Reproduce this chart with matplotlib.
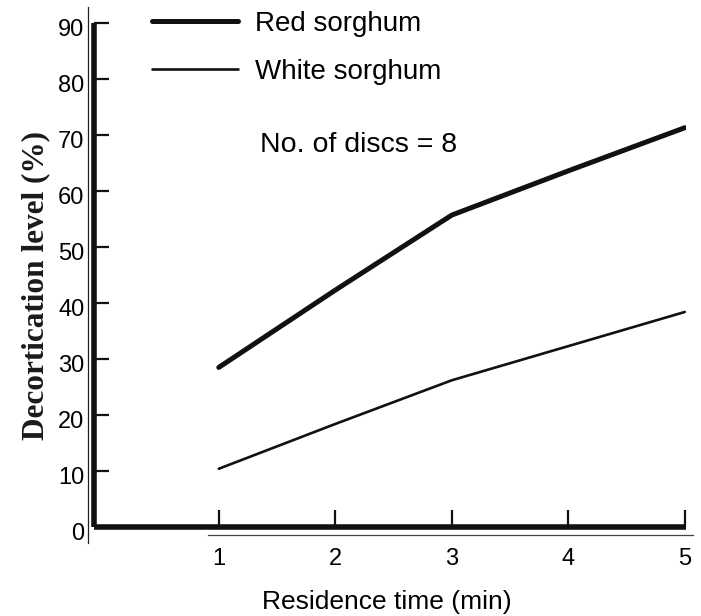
import matplotlib
matplotlib.use("Agg")
import matplotlib.pyplot as plt
from matplotlib.lines import Line2D
from matplotlib.transforms import ScaledTranslation

# ---- data ----
time_min = [1, 2, 3, 4, 5]
red_sorghum = [28.5, 42.3, 55.7, 63.6, 71.3]
white_sorghum = [10.4, 18.4, 26.2, 32.3, 38.4]
series_labels = ["Red sorghum", "White sorghum"]
y_ticks = [0, 10, 20, 30, 40, 50, 60, 70, 80, 90]
x_ticks = [1, 2, 3, 4, 5]
annotation = "No. of discs = 8"
x_label = "Residence time (min)"
y_label = "Decortication level (%)"

W, H = 701, 616
fig = plt.figure(figsize=(W / 100, H / 100), dpi=100)
fig.patch.set_facecolor("white")

def fx(px):
    return px / W

def fy(py):
    return (H - py) / H

# axes box (pixels): left 94, right 686, top 23, bottom 527
ax = fig.add_axes([fx(94), fy(527), (686 - 94) / W, (527 - 23) / H])
ax.set_xlim(-0.071, 5.01)
ax.set_ylim(0, 90)

sans = "Liberation Sans"
ink = "#111111"

l1, = ax.plot(time_min, red_sorghum, color=ink, lw=3.6, solid_capstyle="round",
              solid_joinstyle="round", label=series_labels[0])
l2, = ax.plot(time_min, white_sorghum, color=ink, lw=1.9, solid_capstyle="round",
              solid_joinstyle="round", label=series_labels[1])

for s in ["top", "right"]:
    ax.spines[s].set_visible(False)
for s in ["left", "bottom"]:
    ax.spines[s].set_linewidth(4.0)
    ax.spines[s].set_color(ink)
    ax.spines[s].set_capstyle("butt")

ax.set_xticks(x_ticks)
ax.set_yticks(y_ticks)
ax.tick_params(axis="both", direction="in", width=1.6, color=ink)
ax.tick_params(axis="y", length=11, pad=7, labelsize=17, labelcolor="black")
ax.tick_params(axis="x", length=12, pad=15, labelsize=17, labelcolor="black")
for lab in ax.get_yticklabels() + ax.get_xticklabels():
    lab.set_fontfamily(sans)
offset = ScaledTranslation(0, -5 / 100, fig.dpi_scale_trans)
for lab in ax.get_yticklabels():
    lab.set_transform(lab.get_transform() + offset)

# legend
leg = ax.legend(handles=[l1, l2], loc="upper left",
                bbox_to_anchor=(fx(152), fy(11)), bbox_transform=fig.transFigure,
                frameon=False, borderpad=0, borderaxespad=0,
                handlelength=3.1, handletextpad=0.62, labelspacing=0.78,
                prop={"family": sans, "size": 20})

fig.text(fx(260), fy(152), annotation, fontsize=20.5, family=sans,
         ha="left", va="baseline", color="black")

# axis titles
fig.text(fx(387), fy(609), x_label, fontsize=19, family=sans,
         ha="center", va="baseline", color="black")
fig.text(fx(36), fy(285), y_label, fontsize=22.5, family="Liberation Serif",
         fontweight="bold", rotation=90, ha="center", va="center", color="#1a1a1a")

# thin outer frame lines of the original figure
fig.add_artist(Line2D([fx(88), fx(88)], [fy(7), fy(543)], transform=fig.transFigure,
                      color="#222222", lw=0.9))
fig.add_artist(Line2D([fx(208), fx(693)], [fy(535), fy(535)], transform=fig.transFigure,
                      color="#444444", lw=0.9))

fig.savefig("out.png", dpi=100)
